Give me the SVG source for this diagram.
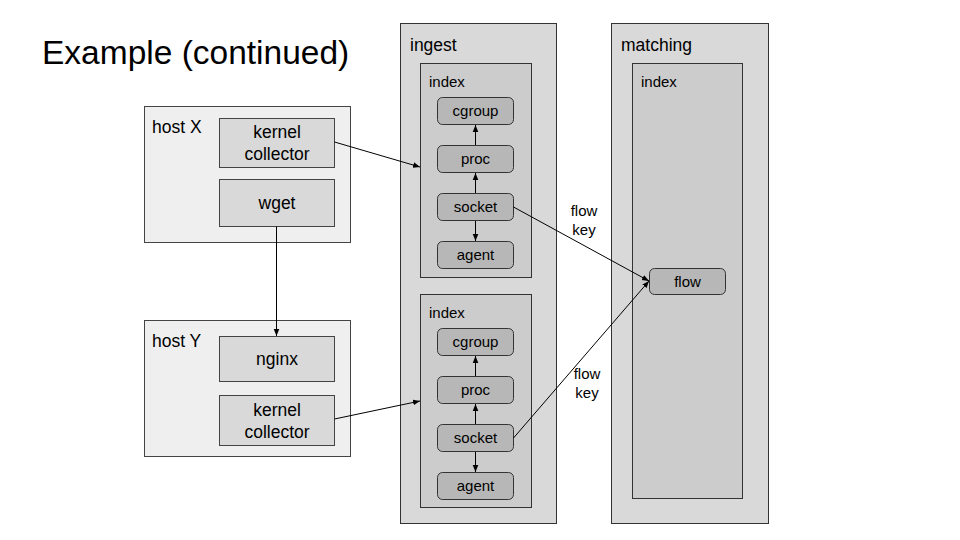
<svg xmlns="http://www.w3.org/2000/svg" width="960" height="540" viewBox="0 0 960 540">
<defs>
<marker id="ah" viewBox="0 0 10 10" refX="10" refY="5" markerWidth="7" markerHeight="7" markerUnits="userSpaceOnUse" orient="auto">
<path d="M0,1 L10,5 L0,9 z" fill="#000"/>
</marker>
<style>
text{font-family:"Liberation Sans",Arial,sans-serif;fill:#000}
.host{fill:#efefef;stroke:#444;stroke-width:1}
.app{fill:#d9d9d9;stroke:#444;stroke-width:1}
.svc{fill:#d9d9d9;stroke:#333;stroke-width:1}
.idx{fill:#cccccc;stroke:#333;stroke-width:1}
.n{fill:#b7b7b7;stroke:#333;stroke-width:1}
.t16{font-size:17.5px}
.t14{font-size:15px}
.c{text-anchor:middle}
.e{stroke:#000;stroke-width:1;fill:none;marker-end:url(#ah)}
</style>
</defs>
<rect width="960" height="540" fill="#fff"/>
<text x="42" y="64" style="font-size:33.5px">Example (continued)</text>

<g id="ingest">
<rect class="svc" x="400.5" y="23.5" width="156" height="500"/>
<text class="t16" x="410" y="51">ingest</text>
</g>
<g id="matching">
<rect class="svc" x="611.5" y="23.5" width="157" height="500"/>
<text class="t16" x="621" y="51">matching</text>
</g>
<g id="index1">
<rect class="idx" x="420.5" y="63.5" width="111" height="214"/>
<text class="t14" x="429" y="87">index</text>
</g>
<g id="index2">
<rect class="idx" x="420.5" y="294.5" width="111" height="213"/>
<text class="t14" x="429" y="318">index</text>
</g>
<g id="index3">
<rect class="idx" x="632.5" y="63.5" width="110" height="435"/>
<text class="t14" x="641" y="87">index</text>
</g>

<g id="hostX">
<rect class="host" x="144.5" y="106.5" width="206" height="136"/>
<text class="t16" x="152" y="133">host X</text>
</g>
<g id="kcX">
<rect class="app" x="219.5" y="118.5" width="115" height="49"/>
<text class="t16 c" x="277" y="138">kernel</text>
<text class="t16 c" x="277" y="160">collector</text>
</g>
<g id="wget">
<rect class="app" x="219.5" y="179.5" width="115" height="47"/>
<text class="t16 c" x="277" y="209">wget</text>
</g>
<g id="hostY">
<rect class="host" x="144.5" y="320.5" width="206" height="136"/>
<text class="t16" x="152" y="347">host Y</text>
</g>
<g id="nginx">
<rect class="app" x="219.5" y="336.5" width="115" height="45"/>
<text class="t16 c" x="277" y="365">nginx</text>
</g>
<g id="kcY">
<rect class="app" x="219.5" y="395.5" width="115" height="50"/>
<text class="t16 c" x="277" y="416">kernel</text>
<text class="t16 c" x="277" y="438">collector</text>
</g>

<g id="cgroup1"><rect class="n" x="437.5" y="97.5" width="76" height="27" rx="5"/><text class="t14 c" x="475.5" y="116">cgroup</text></g>
<g id="proc1"><rect class="n" x="437.5" y="145.5" width="76" height="27" rx="5"/><text class="t14 c" x="475.5" y="164">proc</text></g>
<g id="socket1"><rect class="n" x="437.5" y="193.5" width="76" height="27" rx="5"/><text class="t14 c" x="475.5" y="212">socket</text></g>
<g id="agent1"><rect class="n" x="437.5" y="241.5" width="76" height="27" rx="5"/><text class="t14 c" x="475.5" y="260">agent</text></g>

<g id="cgroup2"><rect class="n" x="437.5" y="328.5" width="76" height="27" rx="5"/><text class="t14 c" x="475.5" y="347">cgroup</text></g>
<g id="proc2"><rect class="n" x="437.5" y="376.5" width="76" height="27" rx="5"/><text class="t14 c" x="475.5" y="395">proc</text></g>
<g id="socket2"><rect class="n" x="437.5" y="424.5" width="76" height="27" rx="5"/><text class="t14 c" x="475.5" y="443">socket</text></g>
<g id="agent2"><rect class="n" x="437.5" y="472.5" width="76" height="27" rx="5"/><text class="t14 c" x="475.5" y="491">agent</text></g>

<g id="flow"><rect class="n" x="649.5" y="268.5" width="76" height="26" rx="5"/><text class="t14 c" x="687.5" y="287">flow</text></g>

<g id="connectors">
<line class="e" x1="334.5" y1="142" x2="420" y2="167"/>
<line class="e" x1="334.5" y1="419" x2="420" y2="401"/>
<line class="e" x1="276.5" y1="226.5" x2="276.5" y2="336"/>
<line class="e" x1="475.5" y1="145" x2="475.5" y2="125"/>
<line class="e" x1="475.5" y1="193" x2="475.5" y2="173"/>
<line class="e" x1="475.5" y1="221" x2="475.5" y2="241"/>
<line class="e" x1="475.5" y1="376" x2="475.5" y2="356"/>
<line class="e" x1="475.5" y1="424" x2="475.5" y2="404"/>
<line class="e" x1="475.5" y1="452" x2="475.5" y2="472"/>
<line class="e" x1="513.5" y1="207" x2="649" y2="281"/>
<line class="e" x1="513.5" y1="438" x2="649" y2="281"/>
<text class="t14 c" x="584" y="216">flow</text>
<text class="t14 c" x="584" y="235">key</text>
<text class="t14 c" x="587" y="379">flow</text>
<text class="t14 c" x="587" y="398">key</text>
</g>
</svg>
